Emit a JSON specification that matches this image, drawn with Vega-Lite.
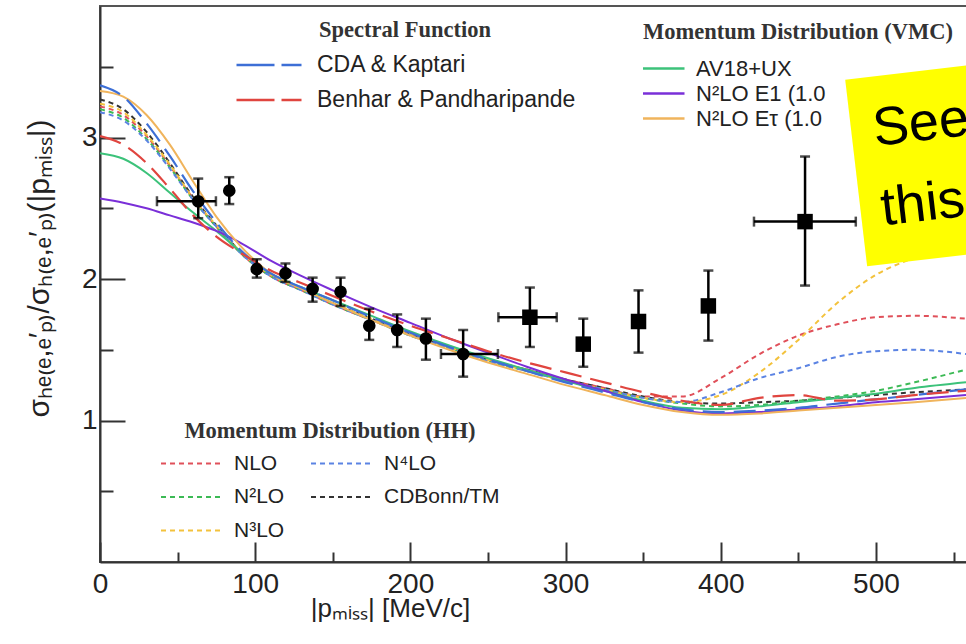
{
  "$schema": "https://vega.github.io/schema/vega-lite/v6.json",
  "width": 868,
  "height": 556,
  "autosize": {"type": "none"},
  "padding": {"left": 100, "top": 6, "right": 0, "bottom": 82},
  "background": "white",
  "config": {"view": {"stroke": "#555", "strokeWidth": 2}, "font": "Liberation Sans"},
  "datasets": {
    "curves": [
      {"g":"S","m":"CDA & Kaptari","x":0,"y":3.37},{"g":"S","m":"CDA & Kaptari","x":15,"y":3.29},{"g":"S","m":"CDA & Kaptari","x":30,"y":3.10},{"g":"S","m":"CDA & Kaptari","x":45,"y":2.87},{"g":"S","m":"CDA & Kaptari","x":60,"y":2.62},{"g":"S","m":"CDA & Kaptari","x":75,"y":2.40},{"g":"S","m":"CDA & Kaptari","x":90,"y":2.21},{"g":"S","m":"CDA & Kaptari","x":110,"y":2.04},{"g":"S","m":"CDA & Kaptari","x":130,"y":1.94},{"g":"S","m":"CDA & Kaptari","x":150,"y":1.85},{"g":"S","m":"CDA & Kaptari","x":175,"y":1.73},{"g":"S","m":"CDA & Kaptari","x":200,"y":1.62},{"g":"S","m":"CDA & Kaptari","x":225,"y":1.52},{"g":"S","m":"CDA & Kaptari","x":250,"y":1.43},{"g":"S","m":"CDA & Kaptari","x":275,"y":1.35},{"g":"S","m":"CDA & Kaptari","x":300,"y":1.27},{"g":"S","m":"CDA & Kaptari","x":325,"y":1.20},{"g":"S","m":"CDA & Kaptari","x":350,"y":1.13},{"g":"S","m":"CDA & Kaptari","x":375,"y":1.08},{"g":"S","m":"CDA & Kaptari","x":400,"y":1.06},{"g":"S","m":"CDA & Kaptari","x":425,"y":1.07},{"g":"S","m":"CDA & Kaptari","x":450,"y":1.09},{"g":"S","m":"CDA & Kaptari","x":475,"y":1.12},{"g":"S","m":"CDA & Kaptari","x":500,"y":1.15},{"g":"S","m":"CDA & Kaptari","x":525,"y":1.18},{"g":"S","m":"CDA & Kaptari","x":558,"y":1.22},
      {"g":"S","m":"Benhar & Pandharipande","x":0,"y":3.01},{"g":"S","m":"Benhar & Pandharipande","x":15,"y":2.95},{"g":"S","m":"Benhar & Pandharipande","x":30,"y":2.82},{"g":"S","m":"Benhar & Pandharipande","x":45,"y":2.64},{"g":"S","m":"Benhar & Pandharipande","x":60,"y":2.45},{"g":"S","m":"Benhar & Pandharipande","x":75,"y":2.30},{"g":"S","m":"Benhar & Pandharipande","x":90,"y":2.19},{"g":"S","m":"Benhar & Pandharipande","x":110,"y":2.06},{"g":"S","m":"Benhar & Pandharipande","x":130,"y":1.97},{"g":"S","m":"Benhar & Pandharipande","x":150,"y":1.88},{"g":"S","m":"Benhar & Pandharipande","x":175,"y":1.77},{"g":"S","m":"Benhar & Pandharipande","x":200,"y":1.67},{"g":"S","m":"Benhar & Pandharipande","x":225,"y":1.58},{"g":"S","m":"Benhar & Pandharipande","x":250,"y":1.49},{"g":"S","m":"Benhar & Pandharipande","x":275,"y":1.41},{"g":"S","m":"Benhar & Pandharipande","x":300,"y":1.34},{"g":"S","m":"Benhar & Pandharipande","x":325,"y":1.27},{"g":"S","m":"Benhar & Pandharipande","x":350,"y":1.20},{"g":"S","m":"Benhar & Pandharipande","x":375,"y":1.14},{"g":"S","m":"Benhar & Pandharipande","x":400,"y":1.11},{"g":"S","m":"Benhar & Pandharipande","x":425,"y":1.16},{"g":"S","m":"Benhar & Pandharipande","x":450,"y":1.18},{"g":"S","m":"Benhar & Pandharipande","x":475,"y":1.14},{"g":"S","m":"Benhar & Pandharipande","x":500,"y":1.15},{"g":"S","m":"Benhar & Pandharipande","x":525,"y":1.18},{"g":"S","m":"Benhar & Pandharipande","x":558,"y":1.21},
      {"g":"V","m":"AV18+UX","x":0,"y":2.89},{"g":"V","m":"AV18+UX","x":15,"y":2.85},{"g":"V","m":"AV18+UX","x":30,"y":2.75},{"g":"V","m":"AV18+UX","x":45,"y":2.61},{"g":"V","m":"AV18+UX","x":60,"y":2.47},{"g":"V","m":"AV18+UX","x":75,"y":2.34},{"g":"V","m":"AV18+UX","x":90,"y":2.20},{"g":"V","m":"AV18+UX","x":110,"y":2.04},{"g":"V","m":"AV18+UX","x":130,"y":1.94},{"g":"V","m":"AV18+UX","x":150,"y":1.85},{"g":"V","m":"AV18+UX","x":175,"y":1.74},{"g":"V","m":"AV18+UX","x":200,"y":1.63},{"g":"V","m":"AV18+UX","x":225,"y":1.53},{"g":"V","m":"AV18+UX","x":250,"y":1.44},{"g":"V","m":"AV18+UX","x":275,"y":1.36},{"g":"V","m":"AV18+UX","x":300,"y":1.28},{"g":"V","m":"AV18+UX","x":325,"y":1.21},{"g":"V","m":"AV18+UX","x":350,"y":1.14},{"g":"V","m":"AV18+UX","x":375,"y":1.09},{"g":"V","m":"AV18+UX","x":400,"y":1.08},{"g":"V","m":"AV18+UX","x":425,"y":1.10},{"g":"V","m":"AV18+UX","x":450,"y":1.13},{"g":"V","m":"AV18+UX","x":475,"y":1.16},{"g":"V","m":"AV18+UX","x":500,"y":1.19},{"g":"V","m":"AV18+UX","x":525,"y":1.23},{"g":"V","m":"AV18+UX","x":558,"y":1.27},
      {"g":"V","m":"N²LO E1 (1.0 fm)","x":0,"y":2.57},{"g":"V","m":"N²LO E1 (1.0 fm)","x":15,"y":2.54},{"g":"V","m":"N²LO E1 (1.0 fm)","x":30,"y":2.50},{"g":"V","m":"N²LO E1 (1.0 fm)","x":45,"y":2.45},{"g":"V","m":"N²LO E1 (1.0 fm)","x":60,"y":2.40},{"g":"V","m":"N²LO E1 (1.0 fm)","x":75,"y":2.34},{"g":"V","m":"N²LO E1 (1.0 fm)","x":90,"y":2.26},{"g":"V","m":"N²LO E1 (1.0 fm)","x":110,"y":2.13},{"g":"V","m":"N²LO E1 (1.0 fm)","x":130,"y":2.02},{"g":"V","m":"N²LO E1 (1.0 fm)","x":150,"y":1.92},{"g":"V","m":"N²LO E1 (1.0 fm)","x":175,"y":1.80},{"g":"V","m":"N²LO E1 (1.0 fm)","x":200,"y":1.69},{"g":"V","m":"N²LO E1 (1.0 fm)","x":225,"y":1.58},{"g":"V","m":"N²LO E1 (1.0 fm)","x":250,"y":1.48},{"g":"V","m":"N²LO E1 (1.0 fm)","x":275,"y":1.38},{"g":"V","m":"N²LO E1 (1.0 fm)","x":300,"y":1.29},{"g":"V","m":"N²LO E1 (1.0 fm)","x":325,"y":1.21},{"g":"V","m":"N²LO E1 (1.0 fm)","x":350,"y":1.13},{"g":"V","m":"N²LO E1 (1.0 fm)","x":375,"y":1.07},{"g":"V","m":"N²LO E1 (1.0 fm)","x":400,"y":1.05},{"g":"V","m":"N²LO E1 (1.0 fm)","x":425,"y":1.06},{"g":"V","m":"N²LO E1 (1.0 fm)","x":450,"y":1.08},{"g":"V","m":"N²LO E1 (1.0 fm)","x":475,"y":1.10},{"g":"V","m":"N²LO E1 (1.0 fm)","x":500,"y":1.13},{"g":"V","m":"N²LO E1 (1.0 fm)","x":525,"y":1.15},{"g":"V","m":"N²LO E1 (1.0 fm)","x":558,"y":1.18},
      {"g":"V","m":"N²LO Eτ (1.0 fm)","x":0,"y":3.33},{"g":"V","m":"N²LO Eτ (1.0 fm)","x":15,"y":3.29},{"g":"V","m":"N²LO Eτ (1.0 fm)","x":30,"y":3.16},{"g":"V","m":"N²LO Eτ (1.0 fm)","x":45,"y":2.95},{"g":"V","m":"N²LO Eτ (1.0 fm)","x":60,"y":2.69},{"g":"V","m":"N²LO Eτ (1.0 fm)","x":75,"y":2.44},{"g":"V","m":"N²LO Eτ (1.0 fm)","x":90,"y":2.24},{"g":"V","m":"N²LO Eτ (1.0 fm)","x":110,"y":2.04},{"g":"V","m":"N²LO Eτ (1.0 fm)","x":130,"y":1.93},{"g":"V","m":"N²LO Eτ (1.0 fm)","x":150,"y":1.83},{"g":"V","m":"N²LO Eτ (1.0 fm)","x":175,"y":1.71},{"g":"V","m":"N²LO Eτ (1.0 fm)","x":200,"y":1.60},{"g":"V","m":"N²LO Eτ (1.0 fm)","x":225,"y":1.50},{"g":"V","m":"N²LO Eτ (1.0 fm)","x":250,"y":1.41},{"g":"V","m":"N²LO Eτ (1.0 fm)","x":275,"y":1.33},{"g":"V","m":"N²LO Eτ (1.0 fm)","x":300,"y":1.25},{"g":"V","m":"N²LO Eτ (1.0 fm)","x":325,"y":1.18},{"g":"V","m":"N²LO Eτ (1.0 fm)","x":350,"y":1.11},{"g":"V","m":"N²LO Eτ (1.0 fm)","x":375,"y":1.06},{"g":"V","m":"N²LO Eτ (1.0 fm)","x":400,"y":1.04},{"g":"V","m":"N²LO Eτ (1.0 fm)","x":425,"y":1.05},{"g":"V","m":"N²LO Eτ (1.0 fm)","x":450,"y":1.07},{"g":"V","m":"N²LO Eτ (1.0 fm)","x":475,"y":1.09},{"g":"V","m":"N²LO Eτ (1.0 fm)","x":500,"y":1.11},{"g":"V","m":"N²LO Eτ (1.0 fm)","x":525,"y":1.13},{"g":"V","m":"N²LO Eτ (1.0 fm)","x":558,"y":1.16},
      {"g":"H","m":"CDBonn/TM","x":0,"y":3.27},{"g":"H","m":"CDBonn/TM","x":15,"y":3.20},{"g":"H","m":"CDBonn/TM","x":30,"y":3.04},{"g":"H","m":"CDBonn/TM","x":45,"y":2.82},{"g":"H","m":"CDBonn/TM","x":60,"y":2.58},{"g":"H","m":"CDBonn/TM","x":75,"y":2.38},{"g":"H","m":"CDBonn/TM","x":90,"y":2.20},{"g":"H","m":"CDBonn/TM","x":110,"y":2.03},{"g":"H","m":"CDBonn/TM","x":130,"y":1.93},{"g":"H","m":"CDBonn/TM","x":150,"y":1.83},{"g":"H","m":"CDBonn/TM","x":175,"y":1.72},{"g":"H","m":"CDBonn/TM","x":200,"y":1.61},{"g":"H","m":"CDBonn/TM","x":225,"y":1.52},{"g":"H","m":"CDBonn/TM","x":250,"y":1.43},{"g":"H","m":"CDBonn/TM","x":275,"y":1.36},{"g":"H","m":"CDBonn/TM","x":300,"y":1.29},{"g":"H","m":"CDBonn/TM","x":325,"y":1.23},{"g":"H","m":"CDBonn/TM","x":350,"y":1.17},{"g":"H","m":"CDBonn/TM","x":375,"y":1.13},{"g":"H","m":"CDBonn/TM","x":400,"y":1.12},{"g":"H","m":"CDBonn/TM","x":425,"y":1.13},{"g":"H","m":"CDBonn/TM","x":450,"y":1.14},{"g":"H","m":"CDBonn/TM","x":475,"y":1.16},{"g":"H","m":"CDBonn/TM","x":500,"y":1.18},{"g":"H","m":"CDBonn/TM","x":525,"y":1.20},{"g":"H","m":"CDBonn/TM","x":558,"y":1.22},
      {"g":"H","m":"NLO","x":0,"y":3.22},{"g":"H","m":"NLO","x":15,"y":3.16},{"g":"H","m":"NLO","x":30,"y":3.01},{"g":"H","m":"NLO","x":45,"y":2.80},{"g":"H","m":"NLO","x":60,"y":2.57},{"g":"H","m":"NLO","x":75,"y":2.37},{"g":"H","m":"NLO","x":90,"y":2.19},{"g":"H","m":"NLO","x":110,"y":2.02},{"g":"H","m":"NLO","x":130,"y":1.92},{"g":"H","m":"NLO","x":150,"y":1.82},{"g":"H","m":"NLO","x":175,"y":1.71},{"g":"H","m":"NLO","x":200,"y":1.61},{"g":"H","m":"NLO","x":225,"y":1.52},{"g":"H","m":"NLO","x":250,"y":1.43},{"g":"H","m":"NLO","x":275,"y":1.36},{"g":"H","m":"NLO","x":300,"y":1.29},{"g":"H","m":"NLO","x":325,"y":1.23},{"g":"H","m":"NLO","x":350,"y":1.17},{"g":"H","m":"NLO","x":375,"y":1.17},{"g":"H","m":"NLO","x":400,"y":1.30},{"g":"H","m":"NLO","x":425,"y":1.47},{"g":"H","m":"NLO","x":450,"y":1.60},{"g":"H","m":"NLO","x":475,"y":1.68},{"g":"H","m":"NLO","x":500,"y":1.73},{"g":"H","m":"NLO","x":525,"y":1.74},{"g":"H","m":"NLO","x":558,"y":1.72},
      {"g":"H","m":"N²LO","x":0,"y":3.20},{"g":"H","m":"N²LO","x":15,"y":3.14},{"g":"H","m":"N²LO","x":30,"y":2.99},{"g":"H","m":"N²LO","x":45,"y":2.79},{"g":"H","m":"N²LO","x":60,"y":2.56},{"g":"H","m":"N²LO","x":75,"y":2.37},{"g":"H","m":"N²LO","x":90,"y":2.19},{"g":"H","m":"N²LO","x":110,"y":2.02},{"g":"H","m":"N²LO","x":130,"y":1.92},{"g":"H","m":"N²LO","x":150,"y":1.82},{"g":"H","m":"N²LO","x":175,"y":1.71},{"g":"H","m":"N²LO","x":200,"y":1.60},{"g":"H","m":"N²LO","x":225,"y":1.51},{"g":"H","m":"N²LO","x":250,"y":1.42},{"g":"H","m":"N²LO","x":275,"y":1.35},{"g":"H","m":"N²LO","x":300,"y":1.28},{"g":"H","m":"N²LO","x":325,"y":1.22},{"g":"H","m":"N²LO","x":350,"y":1.16},{"g":"H","m":"N²LO","x":375,"y":1.12},{"g":"H","m":"N²LO","x":400,"y":1.10},{"g":"H","m":"N²LO","x":425,"y":1.11},{"g":"H","m":"N²LO","x":450,"y":1.14},{"g":"H","m":"N²LO","x":475,"y":1.17},{"g":"H","m":"N²LO","x":500,"y":1.21},{"g":"H","m":"N²LO","x":525,"y":1.27},{"g":"H","m":"N²LO","x":558,"y":1.36},
      {"g":"H","m":"N³LO","x":0,"y":3.24},{"g":"H","m":"N³LO","x":15,"y":3.18},{"g":"H","m":"N³LO","x":30,"y":3.02},{"g":"H","m":"N³LO","x":45,"y":2.81},{"g":"H","m":"N³LO","x":60,"y":2.57},{"g":"H","m":"N³LO","x":75,"y":2.38},{"g":"H","m":"N³LO","x":90,"y":2.20},{"g":"H","m":"N³LO","x":110,"y":2.03},{"g":"H","m":"N³LO","x":130,"y":1.93},{"g":"H","m":"N³LO","x":150,"y":1.83},{"g":"H","m":"N³LO","x":175,"y":1.72},{"g":"H","m":"N³LO","x":200,"y":1.61},{"g":"H","m":"N³LO","x":225,"y":1.52},{"g":"H","m":"N³LO","x":250,"y":1.43},{"g":"H","m":"N³LO","x":275,"y":1.35},{"g":"H","m":"N³LO","x":300,"y":1.28},{"g":"H","m":"N³LO","x":325,"y":1.22},{"g":"H","m":"N³LO","x":350,"y":1.16},{"g":"H","m":"N³LO","x":375,"y":1.13},{"g":"H","m":"N³LO","x":400,"y":1.18},{"g":"H","m":"N³LO","x":425,"y":1.34},{"g":"H","m":"N³LO","x":450,"y":1.57},{"g":"H","m":"N³LO","x":475,"y":1.83},{"g":"H","m":"N³LO","x":500,"y":2.03},{"g":"H","m":"N³LO","x":525,"y":2.15},{"g":"H","m":"N³LO","x":558,"y":2.24},
      {"g":"H","m":"N⁴LO","x":0,"y":3.18},{"g":"H","m":"N⁴LO","x":15,"y":3.12},{"g":"H","m":"N⁴LO","x":30,"y":2.98},{"g":"H","m":"N⁴LO","x":45,"y":2.78},{"g":"H","m":"N⁴LO","x":60,"y":2.56},{"g":"H","m":"N⁴LO","x":75,"y":2.37},{"g":"H","m":"N⁴LO","x":90,"y":2.19},{"g":"H","m":"N⁴LO","x":110,"y":2.02},{"g":"H","m":"N⁴LO","x":130,"y":1.92},{"g":"H","m":"N⁴LO","x":150,"y":1.82},{"g":"H","m":"N⁴LO","x":175,"y":1.71},{"g":"H","m":"N⁴LO","x":200,"y":1.60},{"g":"H","m":"N⁴LO","x":225,"y":1.51},{"g":"H","m":"N⁴LO","x":250,"y":1.42},{"g":"H","m":"N⁴LO","x":275,"y":1.35},{"g":"H","m":"N⁴LO","x":300,"y":1.28},{"g":"H","m":"N⁴LO","x":325,"y":1.22},{"g":"H","m":"N⁴LO","x":350,"y":1.16},{"g":"H","m":"N⁴LO","x":375,"y":1.13},{"g":"H","m":"N⁴LO","x":400,"y":1.20},{"g":"H","m":"N⁴LO","x":425,"y":1.30},{"g":"H","m":"N⁴LO","x":450,"y":1.37},{"g":"H","m":"N⁴LO","x":475,"y":1.45},{"g":"H","m":"N⁴LO","x":500,"y":1.49},{"g":"H","m":"N⁴LO","x":525,"y":1.50},{"g":"H","m":"N⁴LO","x":558,"y":1.47}
    ],
    "pts": [
      {"x":63.3,"y":2.55,"ylo":2.43,"yhi":2.71,"xlo":36.7,"xhi":74.7,"kin":"A"},
      {"x":83.3,"y":2.625,"ylo":2.53,"yhi":2.72,"kin":"A"},
      {"x":101,"y":2.07,"ylo":2.01,"yhi":2.14,"kin":"A"},
      {"x":119.5,"y":2.04,"ylo":1.98,"yhi":2.11,"kin":"A"},
      {"x":137,"y":1.93,"ylo":1.84,"yhi":2.01,"kin":"A"},
      {"x":155,"y":1.91,"ylo":1.81,"yhi":2.01,"kin":"A"},
      {"x":173.5,"y":1.67,"ylo":1.57,"yhi":1.79,"kin":"A"},
      {"x":191.5,"y":1.64,"ylo":1.52,"yhi":1.75,"kin":"A"},
      {"x":210,"y":1.58,"ylo":1.43,"yhi":1.72,"kin":"A"},
      {"x":234,"y":1.47,"ylo":1.31,"yhi":1.64,"xlo":219.7,"xhi":256.4,"kin":"A"},
      {"x":277,"y":1.73,"ylo":1.52,"yhi":1.94,"xlo":256.7,"xhi":294.3,"kin":"B"},
      {"x":311.4,"y":1.54,"ylo":1.38,"yhi":1.72,"kin":"B"},
      {"x":347,"y":1.70,"ylo":1.48,"yhi":1.92,"kin":"B"},
      {"x":392,"y":1.81,"ylo":1.565,"yhi":2.06,"kin":"B"},
      {"x":454.3,"y":2.406,"ylo":1.954,"yhi":2.866,"xlo":421.4,"xhi":487,"kin":"B"}
    ]
  },
  "layer": [
    {
      "data": {"name": "curves"},
      "transform": [{"filter": "datum.g === 'H'"}],
      "mark": {"type": "line", "strokeWidth": 2, "strokeDash": [5, 4], "interpolate": "monotone", "clip": true},
      "encoding": {
        "x": {"field": "x", "type": "quantitative",
          "scale": {"domain": [0, 559.3], "nice": false, "zero": false},
          "axis": {
            "values": [0, 50, 100, 150, 200, 250, 300, 350, 400, 450, 500, 550],
            "labelExpr": "datum.value % 100 === 0 ? datum.label : ''",
            "tickSize": {"condition": {"test": "datum.value % 100 === 0", "value": -20}, "value": -10},
            "labelPadding": 28, "labelFontSize": 28, "labelFont": "Liberation Sans", "labelColor": "#222",
            "labelFlush": false, "labelOverlap": false, "format": "d",
            "domainColor": "#333", "domainWidth": 2, "tickColor": "#333", "tickWidth": 2, "grid": false,
            "title": "|pₘᵢₛₛ| [MeV/c]", "titleFontSize": 26, "titleFont": "Liberation Sans", "titleFontWeight": "normal",
            "titleColor": "#222", "titleX": 290, "titleY": 33, "titleAnchor": "start", "titleAlign": "center", "titleBaseline": "top"
          }
        },
        "y": {"field": "y", "type": "quantitative",
          "scale": {"domain": [0, 3.93], "nice": false, "zero": false},
          "axis": {
            "values": [0.5, 1, 1.5, 2, 2.5, 3, 3.5],
            "labelExpr": "datum.value % 1 === 0 ? datum.label : ''",
            "tickSize": {"condition": {"test": "datum.value % 1 === 0", "value": -25}, "value": -13},
            "labelPadding": 28, "labelFontSize": 28, "labelFont": "Liberation Sans", "labelColor": "#222",
            "labelFlush": false, "labelOverlap": false, "format": ".0f",
            "domainColor": "#333", "domainWidth": 2, "tickColor": "#333", "tickWidth": 2, "grid": false,
            "title": "σₕₑ₍ₑ,ₑ′ₚ₎/σₕ₍ₑ,ₑ′ₚ₎(|pₘᵢₛₛ|)", "titleFontSize": 30, "titleFont": "Liberation Sans", "titleFontWeight": "normal",
            "titleColor": "#222", "titleX": -46, "titleY": 262, "titleAngle": -90, "titleAlign": "center", "titleBaseline": "bottom"
          }
        },
        "color": {"field": "m", "type": "nominal",
          "scale": {"domain": ["NLO", "N²LO", "N³LO", "N⁴LO", "CDBonn/TM"], "range": ["#e0505a", "#3cba55", "#f3c23c", "#5b83e3", "#333333"]},
          "legend": {"title": "Momentum Distribution (HH)", "orient": "none", "legendX": 60, "legendY": 414, "columns": 2,
            "symbolType": "stroke", "symbolSize": 3600, "symbolStrokeWidth": 2, "symbolDash": [5, 4], "clipHeight": 22,
            "labelFont": "Liberation Sans", "labelFontSize": 21, "labelColor": "#222", "labelOffset": 12, "labelLimit": 400,
            "titleFont": "Liberation Serif", "titleFontSize": 22.5, "titleFontWeight": "bold", "titleColor": "#333", "titleAnchor": "middle", "titleLimit": 500,
            "titlePadding": 10, "rowPadding": 11.5, "columnPadding": 25, "padding": 0}
        }
      }
    },
    {
      "data": {"name": "curves"},
      "transform": [{"filter": "datum.g === 'V'"}],
      "mark": {"type": "line", "strokeWidth": 2, "interpolate": "monotone", "clip": true},
      "encoding": {
        "x": {"field": "x", "type": "quantitative"},
        "y": {"field": "y", "type": "quantitative"},
        "color": {"field": "m", "type": "nominal",
          "scale": {"domain": ["AV18+UX", "N²LO E1 (1.0 fm)", "N²LO Eτ (1.0 fm)"], "range": ["#3cc27a", "#7a2fd8", "#f0b45c"]},
          "legend": {"title": "Momentum Distribution (VMC)", "orient": "none", "legendX": 543, "legendY": 15,
            "symbolType": "stroke", "symbolSize": 3600, "symbolStrokeWidth": 2.5, "symbolOffset": -20, "clipHeight": 20,
            "labelFont": "Liberation Sans", "labelFontSize": 22, "labelColor": "#222", "labelOffset": 10, "labelLimit": 400,
            "labelExpr": "datum.label === 'AV18+UX' ? datum.label : truncate(datum.label, 13, 'right', '')",
            "titleFont": "Liberation Serif", "titleFontSize": 22.5, "titleFontWeight": "bold", "titleColor": "#333", "titleAnchor": "start", "titleLimit": 500,
            "titlePadding": 15, "rowPadding": 3, "padding": 0}
        }
      }
    },
    {
      "data": {"name": "curves"},
      "transform": [{"filter": "datum.g === 'S'"}],
      "mark": {"type": "line", "strokeWidth": 2.2, "strokeDash": [22, 9], "interpolate": "monotone", "clip": true},
      "encoding": {
        "x": {"field": "x", "type": "quantitative"},
        "y": {"field": "y", "type": "quantitative"},
        "color": {"field": "m", "type": "nominal",
          "scale": {"domain": ["CDA & Kaptari", "Benhar & Pandharipande"], "range": ["#3d6fd6", "#e0453f"]},
          "legend": {"title": "Spectral Function", "orient": "none", "legendX": 135, "legendY": 13,
            "symbolType": "stroke", "symbolSize": 4225, "symbolStrokeWidth": 2.5, "symbolDash": [38, 7], "clipHeight": 23,
            "labelFont": "Liberation Sans", "labelFontSize": 23, "labelColor": "#222", "labelOffset": 14, "labelLimit": 400,
            "titleFont": "Liberation Serif", "titleFontSize": 22.5, "titleFontWeight": "bold", "titleColor": "#333", "titleAnchor": "middle", "titleLimit": 500,
            "titlePadding": 12, "rowPadding": 11, "padding": 0}
        }
      }
    },
    {
      "data": {"name": "pts"},
      "mark": {"type": "errorbar", "color": "black", "ticks": {"size": 10, "thickness": 2.5}, "rule": {"strokeWidth": 2.5}},
      "encoding": {
        "x": {"field": "x", "type": "quantitative", "title": "|pₘᵢₛₛ| [MeV/c]"},
        "y": {"field": "ylo", "type": "quantitative", "title": "σₕₑ₍ₑ,ₑ′ₚ₎/σₕ₍ₑ,ₑ′ₚ₎(|pₘᵢₛₛ|)"},
        "y2": {"field": "yhi"}
      }
    },
    {
      "data": {"name": "pts"},
      "transform": [{"filter": "isValid(datum.xlo)"}],
      "mark": {"type": "errorbar", "color": "black", "ticks": {"size": 10, "thickness": 2.5}, "rule": {"strokeWidth": 2.5}},
      "encoding": {
        "x": {"field": "xlo", "type": "quantitative", "title": "|pₘᵢₛₛ| [MeV/c]"},
        "x2": {"field": "xhi"},
        "y": {"field": "y", "type": "quantitative", "title": "σₕₑ₍ₑ,ₑ′ₚ₎/σₕ₍ₑ,ₑ′ₚ₎(|pₘᵢₛₛ|)"}
      }
    },
    {
      "data": {"name": "pts"},
      "mark": {"type": "point", "filled": true, "color": "black", "opacity": 1},
      "encoding": {
        "x": {"field": "x", "type": "quantitative"},
        "y": {"field": "y", "type": "quantitative"},
        "shape": {"field": "kin", "type": "nominal", "scale": {"domain": ["A", "B"], "range": ["circle", "square"]}, "legend": null},
        "size": {"field": "kin", "type": "nominal", "scale": {"domain": ["A", "B"], "range": [160, 240]}, "legend": null}
      }
    },
    {
      "data": {"values": [{}]},
      "mark": {"type": "point", "shape": "square", "size": 35344, "angle": 353.3, "filled": true, "color": "#ffff00", "opacity": 1, "strokeWidth": 0},
      "encoding": {"x": {"datum": 547.4, "type": "quantitative"}, "y": {"datum": 2.827, "type": "quantitative"}}
    },
    {
      "data": {"values": [{}]},
      "mark": {"type": "text", "text": "See", "font": "Liberation Sans", "fontSize": 54, "align": "left", "baseline": "alphabetic", "angle": 353.3, "color": "black"},
      "encoding": {"x": {"datum": 499.4, "type": "quantitative"}, "y": {"datum": 2.94, "type": "quantitative"}}
    },
    {
      "data": {"values": [{}]},
      "mark": {"type": "text", "text": "this", "font": "Liberation Sans", "fontSize": 54, "align": "left", "baseline": "alphabetic", "angle": 353.3, "color": "black"},
      "encoding": {"x": {"datum": 504.5, "type": "quantitative"}, "y": {"datum": 2.378, "type": "quantitative"}}
    }
  ],
  "resolve": {"scale": {"color": "independent", "shape": "independent", "size": "independent"}}
}
